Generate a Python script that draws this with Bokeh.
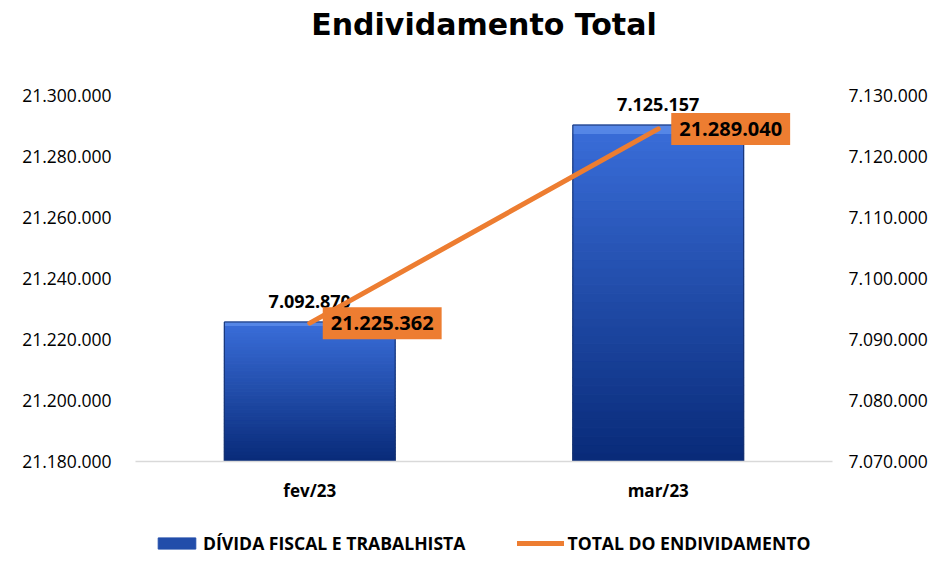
from bokeh.plotting import figure
from bokeh.layouts import column
from bokeh.models import (ColumnDataSource, Range1d, LinearAxis, FixedTicker,
                          Legend, LegendItem, FactorRange, Title)
from bokeh.core.properties import value
from bokeh.embed import file_html
from bokeh.resources import INLINE

# ---- data ----
categories = ["fev/23", "mar/23"]
divida = [7092870, 7125157]          # bars, right axis
total = [21225362, 21289040]         # line, left axis
left_ticks = [21180000, 21200000, 21220000, 21240000, 21260000, 21280000, 21300000]
right_ticks = [7070000, 7080000, 7090000, 7100000, 7110000, 7120000, 7130000]
series_names = ["DÍVIDA FISCAL E TRABALHISTA", "TOTAL DO ENDIVIDAMENTO"]


def fmt(v):
    return f"{v:,}".replace(",", ".")


FONT = "Open Sans"
ORANGE = "#ED7D31"

p = figure(width=930, height=505, x_range=FactorRange(*categories),
           y_range=Range1d(left_ticks[0], left_ticks[-1]),
           output_backend="svg", toolbar_location=None,
           min_border_left=135, min_border_right=90,
           min_border_top=95, min_border_bottom=44)
p.extra_y_ranges = {"bars": Range1d(right_ticks[0], right_ticks[-1])}
p.outline_line_color = None
p.grid.visible = False
p.x_range.range_padding = 0.0
p.title.visible = False

# spacer title (closest to frame) + real title (outermost)
spacer = Title(text=" ", text_font_size="20px", standoff=28)
p.add_layout(spacer, "above")
title = Title(text="Endividamento Total", align="center", vertical_align="top",
              text_font="DejaVu Sans", text_font_size="30px",
              text_font_style="bold", text_color="#000000",
              standoff=0, offset=-8)
p.add_layout(title, "above")

# left axis
ya = p.yaxis[0]
ya.ticker = FixedTicker(ticks=left_ticks)
ya.major_label_overrides = {t: fmt(t) for t in left_ticks}
ya.axis_line_color = None
ya.major_tick_line_color = None
ya.minor_tick_line_color = None
ya.major_label_standoff = 18
ya.major_label_text_font = FONT
ya.major_label_text_font_size = "17.5px"
ya.major_label_text_color = "#000000"

# right axis
ra = LinearAxis(y_range_name="bars")
ra.ticker = FixedTicker(ticks=right_ticks)
ra.major_label_overrides = {t: fmt(t) for t in right_ticks}
ra.axis_line_color = None
ra.major_tick_line_color = None
ra.minor_tick_line_color = None
ra.major_label_standoff = 10
ra.major_label_text_font = FONT
ra.major_label_text_font_size = "17.5px"
ra.major_label_text_color = "#000000"
p.add_layout(ra, "right")

# x axis
xa = p.xaxis[0]
xa.axis_line_color = "#D9D9D9"
xa.axis_line_width = 1.5
xa.major_tick_line_color = None
xa.minor_tick_line_color = None
xa.major_label_standoff = 11
xa.major_label_text_font = FONT
xa.major_label_text_font_size = "17px"
xa.major_label_text_font_style = "bold"
xa.major_label_text_color = "#000000"

# ---- gradient bars (slices of each bar, light at top, dark at bottom) ----
top_c = (0x3A, 0x6E, 0xDA)
bot_c = (0x08, 0x2A, 0x78)
N = 40
base = right_ticks[0]
sx, sb, st, sc = [], [], [], []
for cat, v in zip(categories, divida):
    for i in range(N):
        f = (i + 0.5) / N
        c = tuple(int(round(bot_c[k] + (top_c[k] - bot_c[k]) * f)) for k in range(3))
        if i == N - 1:
            c = (0x55, 0x86, 0xE6)
        sx.append(cat)
        sb.append(base + (v - base) * i / N)
        st.append(base + (v - base) * (i + 1) / N)
        sc.append("#%02x%02x%02x" % c)
slices = ColumnDataSource(dict(x=sx, bottom=sb, top=st, color=sc))
p.vbar(x="x", bottom="bottom", top="top", width=0.49, source=slices,
       fill_color="color", line_color="color", line_width=1.2,
       y_range_name="bars")

bsrc = ColumnDataSource(dict(x=categories, top=divida,
                             label=[fmt(v) for v in divida]))
p.vbar(x="x", top="top", bottom=base, width=0.49, source=bsrc,
       fill_alpha=0, line_color="#17326F", line_width=1, y_range_name="bars")

p.text(x="x", y="top", text="label", source=bsrc, y_range_name="bars",
       text_align="center", text_baseline="bottom", y_offset=-14,
       text_font=value(FONT), text_font_size="18px", text_font_style="bold",
       text_color="#000000")

# ---- line ----
lsrc = ColumnDataSource(dict(x=categories, y=total, label=[fmt(v) for v in total]))
p.line(x="x", y="y", source=lsrc, line_color=ORANGE, line_width=5,
       line_cap="round")

p.text(x="x", y="y", text="label", source=lsrc,
       text_align="left", text_baseline="middle", x_offset=13,
       text_font=value(FONT), text_font_size="20px", text_font_style="bold",
       text_color="#000000", background_fill_color=ORANGE,
       padding=dict(left=8, right=8, top=9, bottom=9))

# ---- legend strip (separate small figure, hidden copies of the series) ----
q = figure(width=930, height=50, x_range=FactorRange(*categories),
           y_range=Range1d(0, 1), output_backend="svg", toolbar_location=None,
           min_border=0)
q.axis.visible = False
q.grid.visible = False
q.outline_line_color = None
lg_bar = q.vbar(x="x", bottom="bottom", top="top", width=0.49, source=slices,
                fill_color="color", line_color="color", visible=False)
lg_line = q.line(x="x", y="y", source=lsrc, line_color=ORANGE, line_width=5,
                 line_cap="round", visible=False)
legend = Legend(items=[
    LegendItem(label=series_names[0], renderers=[lg_bar], index=N // 2),
    LegendItem(label=series_names[1], renderers=[lg_line]),
], orientation="horizontal", location=(18, 0))
legend.label_text_font = FONT
legend.label_text_font_size = "17.6px"
legend.label_text_font_style = "bold"
legend.label_text_color = "#000000"
legend.glyph_width = 47
legend.glyph_height = 14
legend.label_standoff = 3
legend.spacing = 52
legend.padding = 2
legend.margin = 0
legend.border_line_color = None
legend.background_fill_alpha = 0
legend.inactive_fill_alpha = 0
q.add_layout(legend, "center")

layout = column(p, q, spacing=0)
open("out.html", "w").write(file_html(layout, INLINE))
